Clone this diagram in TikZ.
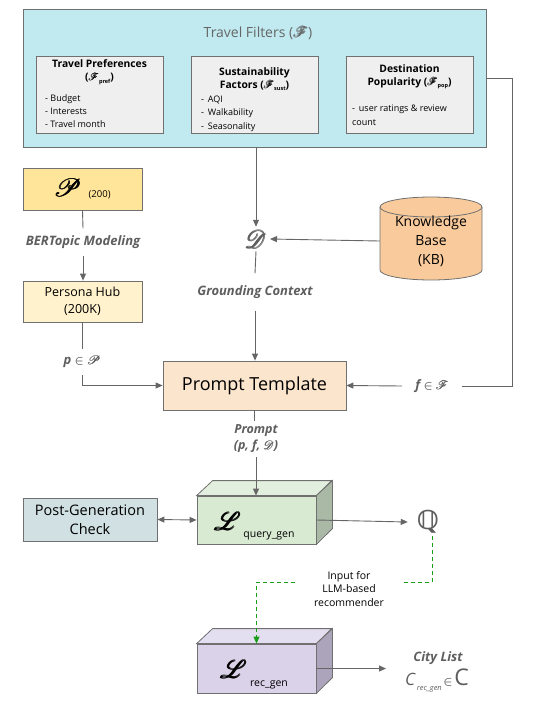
\documentclass[tikz,border=0pt]{standalone}
\usepackage{fontspec}
\setmainfont{Open Sans}
\newfontfamily\dejavu{DejaVu Sans}
\usepackage{amsmath}
\usepackage{amssymb}
\usepackage{mathrsfs}
\usetikzlibrary{arrows.meta,calc}
\definecolor{cyanf}{HTML}{C0EAF0}
\definecolor{subf}{HTML}{EFEFEF}
\definecolor{bordergray}{HTML}{707070}
\definecolor{linegray}{HTML}{666666}
\definecolor{labgray}{HTML}{5E5E5E}
\definecolor{titlegray}{HTML}{666666}
\definecolor{pyel}{HTML}{FFE599}
\definecolor{phyel}{HTML}{FFF2CC}
\definecolor{promptf}{HTML}{FCE5CD}
\definecolor{kbf}{HTML}{F9CB9C}
\definecolor{pgcf}{HTML}{D0E0E3}
\definecolor{gfront}{HTML}{D9EAD3}
\definecolor{gtop}{HTML}{E3EFDE}
\definecolor{gside}{HTML}{AAB8A6}
\definecolor{vfront}{HTML}{D9D2E9}
\definecolor{vtop}{HTML}{E4DFF0}
\definecolor{vside}{HTML}{ABA4BA}
\definecolor{dgreen}{HTML}{1A9E1A}
\newcommand{\mysub}[1]{\raisebox{-2.5pt}{\fontsize{5.5}{6}\selectfont #1}}
\newcommand{\bscr}[1]{$\pmb{\mathscr{#1}}$}
\tikzset{
  box/.style={draw=bordergray, line width=0.8pt, inner sep=0pt},
  conn/.style={draw=linegray, line width=0.9pt},
  arr/.style={conn, -{Triangle[length=7pt,width=6pt]}},
  darr/.style={conn, {Triangle[length=7pt,width=6pt]}-{Triangle[length=7pt,width=6pt]}},
  gline/.style={draw=dgreen, line width=0.9pt, dash pattern=on 4pt off 3pt},
  garr/.style={gline, -{Triangle[length=7pt,width=6pt]}},
  lab/.style={text=labgray, font=\bfseries\itshape\fontsize{13}{16}\selectfont, inner xsep=1pt, inner ysep=7pt},
  subtitle/.style={font=\bfseries\fontsize{10.3}{13}\selectfont, align=center, inner sep=0pt},
  items/.style={font=\fontsize{9}{13}\selectfont, align=left, anchor=west, inner sep=0pt},
}
\begin{document}
\begin{tikzpicture}[x=1pt,y=-1pt]
\useasboundingbox (0,0) rectangle (539,713);
% Travel filters
\node[box, fill=cyanf, minimum width=463, minimum height=138] (TF) at (254.5,78) {};
\node[text=titlegray, font=\fontsize{14}{16}\selectfont] (TFt) at (258,33) {Travel Filters (\bscr{F})};
\node[box, fill=subf, minimum width=127, minimum height=77] (B1) at (99.5,94.5) {};
\node[subtitle] (B1t) at (99.5,72) {Travel Preferences\\(\bscr{F}\mysub{pref})};
\node[items] (B1i) at (45,111) {- Budget\\- Interests\\- Travel month};
\node[box, fill=subf, minimum width=127, minimum height=77] (B2) at (254.5,94.5) {};
\node[subtitle] (B2t) at (254.5,79) {Sustainability\\Factors (\bscr{F}\mysub{sust})};
\node[items, font=\fontsize{9}{13.5}\selectfont] (B2i) at (201,113.5) {- \,AQI\\- \,Walkability\\- \,Seasonality};
\node[box, fill=subf, minimum width=127, minimum height=77] (B3) at (409.5,94.5) {};
\node[subtitle] (B3t) at (409.5,76.5) {Destination\\Popularity (\bscr{F}\mysub{pop})};
\node[items, font=\fontsize{9}{14}\selectfont] (B3i) at (352,115) {- \,user ratings \& review\\count};
% Left column
\node[box, fill=pyel, minimum width=119, minimum height=42] (P) at (82.5,189)
  {{\fontsize{23}{23}\selectfont\bscr{P}}\hspace{7pt}\raisebox{-1pt}{\fontsize{9.5}{9.5}\selectfont(200)}};
\node[lab] (BT) at (83,242) {BERTopic Modeling};
\node[box, fill=phyel, minimum width=119, minimum height=41, align=center, font=\fontsize{12.5}{17}\selectfont] (PH) at (82.5,301.5) {Persona Hub\\(200K)};
\node[lab] (pe) at (82,362) {p {\boldmath$\in$} \bscr{P}};
% Center column
\node[text=labgray, font=\fontsize{24}{24}\selectfont, inner sep=3pt] (D) at (256,239) {\bscr{D}};
\node[lab, inner ysep=12pt] (GC) at (255,292) {Grounding Context};
\node[box, fill=promptf, minimum width=183, minimum height=49, font=\fontsize{18}{20}\selectfont] (PT) at (254.5,385.5) {Prompt Template};
\node[lab, align=center, inner ysep=4pt, font=\bfseries\itshape\fontsize{12.5}{16}\selectfont] (PL) at (256,439) {Prompt\\(p, f, \bscr{D})};
% Knowledge base cylinder
\draw[draw=bordergray, line width=0.8pt, fill=kbf] (380,207) -- (380,270)
  arc[start angle=180, end angle=360, x radius=51pt, y radius=10pt] -- (482,207)
  arc[start angle=0, end angle=180, x radius=51pt, y radius=10pt] -- cycle;
\draw[draw=bordergray, line width=0.8pt] (380,207) arc[start angle=180, end angle=360, x radius=51pt, y radius=10pt];
\node[minimum width=102, minimum height=83, inner sep=0pt, align=center, font=\fontsize{14}{19}\selectfont] (KB) at (431,241) {Knowledge\\Base\\(KB)};
% f label
\node[lab, inner xsep=13pt, inner ysep=2pt] (fe) at (432,386) {f {\boldmath$\in$} \bscr{F}};
\coordinate (c1) at (512,78);
% Query generator cuboid
\node[box, fill=gfront, minimum width=119, minimum height=48] (Lq) at (256.5,520) {};
\draw[draw=bordergray, line width=0.8pt, fill=gtop] (Lq.north west) -- ++(16,-15) -- ++(119,0) -- (Lq.north east) -- cycle;
\draw[draw=bordergray, line width=0.8pt, fill=gside] (Lq.north east) -- ++(16,-15) -- ++(0,48) -- (Lq.south east) -- cycle;
\node[font=\fontsize{30}{30}\selectfont, inner sep=0pt] (Lqs) at (228,521) {\bscr{L}};
\node[font=\fontsize{10.5}{12}\selectfont, inner sep=0pt] (Lqt) at (269,536) {query\_gen};
\node[box, fill=pgcf, minimum width=134, minimum height=43, align=center, font=\fontsize{14.5}{19}\selectfont] (PGC) at (90,519.5) {Post-Generation\\Check};
\node[text=labgray, font=\dejavu\bfseries\fontsize{26}{26}\selectfont, inner xsep=9pt, inner ysep=2pt] (Q) at (428,522) {ℚ};
% Recommender cuboid
\node[box, fill=vfront, minimum width=119, minimum height=49] (Lr) at (256.5,668.5) {};
\draw[draw=bordergray, line width=0.8pt, fill=vtop] (Lr.north west) -- ++(16,-15) -- ++(119,0) -- (Lr.north east) -- cycle;
\draw[draw=bordergray, line width=0.8pt, fill=vside] (Lr.north east) -- ++(16,-15) -- ++(0,49) -- (Lr.south east) -- cycle;
\node[font=\fontsize{30}{30}\selectfont, inner sep=0pt] (Lrs) at (234,669) {\bscr{L}};
\node[font=\fontsize{10.5}{12}\selectfont, inner sep=0pt] (Lrt) at (269,685) {rec\_gen};
\node[align=center, font=\fontsize{10.5}{13.5}\selectfont, inner sep=0pt] (IN) at (349,589) {Input for\\LLM-based\\recommender};
\coordinate (g1) at (403,582);
\coordinate (g2) at (295,582);
\node[lab, inner sep=1pt] (CL) at (438,658) {City List};
\node[text=labgray, inner sep=1pt] (CF) at (437,681)
  {{\itshape\fontsize{17}{17}\selectfont C}\,\raisebox{-5pt}{\itshape\fontsize{7.5}{7.5}\selectfont rec\_gen}\,{\fontsize{13}{13}\selectfont\boldmath$\in$}\,{\fontsize{23}{23}\selectfont C}};
\coordinate (cityin) at (386,668.5);
% Connectors
\draw[arr] (D.north |- TF.south) -- (D.north);
\draw[arr] (KB.west) -- (D.east);
\draw[conn] (D.south) -- (GC.north);
\draw[arr] (GC.south) -- (GC.south |- PT.north);
\draw[conn] (P.south) -- (BT.north);
\draw[arr] (BT.south) -- (BT.south |- PH.north);
\draw[conn] (PH.south) -- (pe.north -| PH.south);
\draw[arr] (pe.south -| PH.south) |- (PT.west);
\draw[conn] (TF.east) -- (c1) |- (fe.east);
\draw[arr] (fe.west) -- (PT.east);
\draw[conn] (PT.south) -- (PT.south |- PL.north);
\draw[arr] (PL.south) -- (PL.south |- Lq.north);
\draw[darr] (PGC.east) -- (Lq.west);
\draw[arr] (Lq.east) -- (Q.west);
\draw[gline] ($(Q.south)+(4,0)$) |- (g1);
\draw[garr] (g2) -| (Lr.north);
\draw[arr] (Lr.east) -- (cityin);
\end{tikzpicture}
\end{document}
